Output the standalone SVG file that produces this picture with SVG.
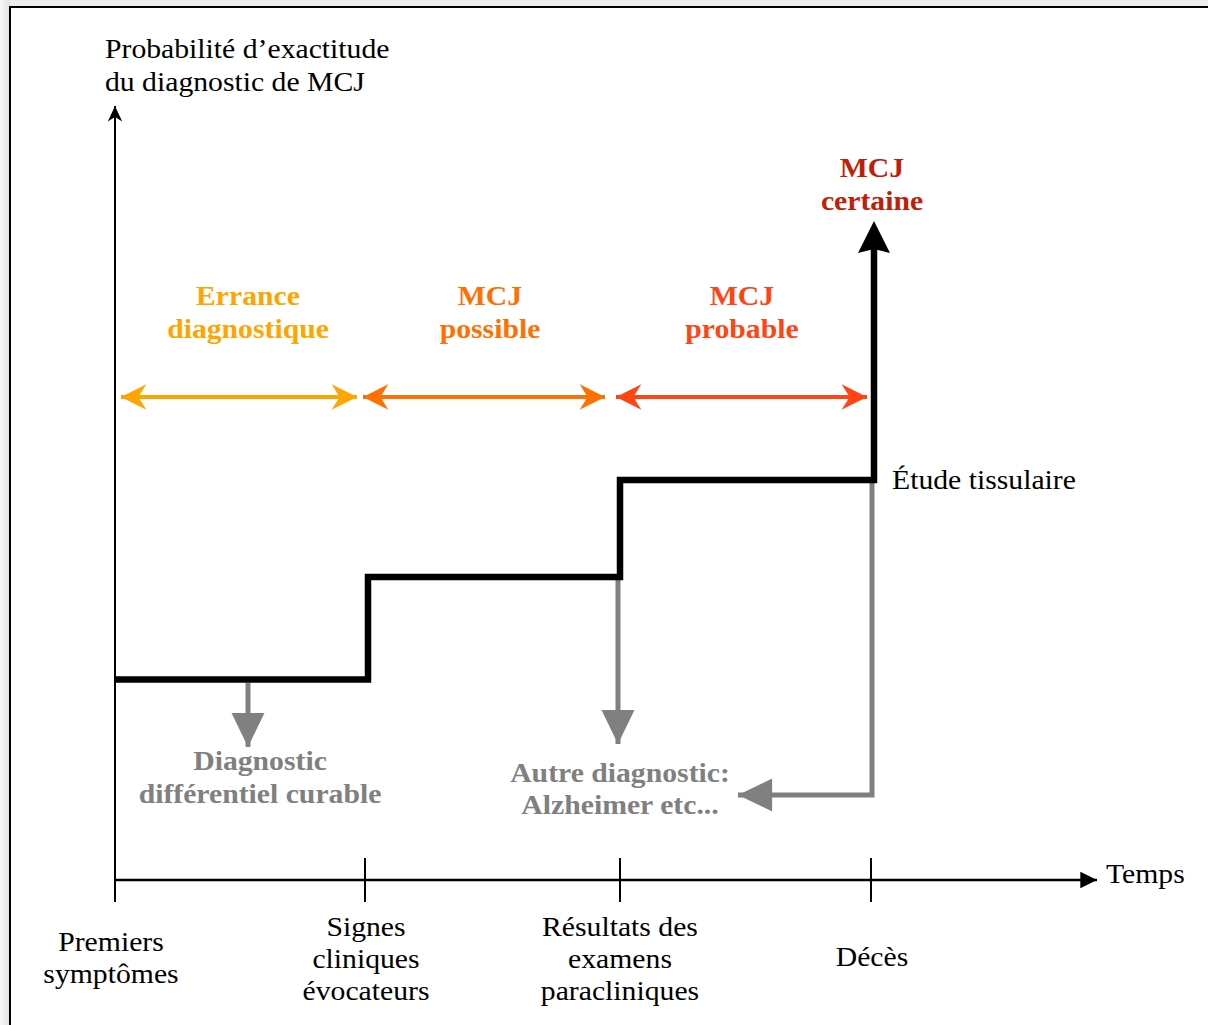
<svg xmlns="http://www.w3.org/2000/svg" width="1208" height="1025" viewBox="0 0 1208 1025">
<defs>
<style>
text{font-family:"Liberation Serif","Times New Roman","DejaVu Serif",serif;font-size:27px}
.b{font-weight:bold}
.c{text-anchor:middle}
.g{fill:#808080}
</style>
<marker id="axY" markerUnits="userSpaceOnUse" markerWidth="20" markerHeight="20" viewBox="-16 -8 18 16" refX="0" refY="0" orient="auto"><path d="M0,0 L-14,-6.5 L-10,0 L-14,6.5 Z" fill="#000"/></marker>
<marker id="axX" markerUnits="userSpaceOnUse" markerWidth="20" markerHeight="20" viewBox="-16 -8 18 16" refX="0" refY="0" orient="auto"><path d="M0,0 L-15,-7.5 L-15,7.5 Z" fill="#000"/></marker>
<marker id="aO" markerUnits="userSpaceOnUse" markerWidth="30" markerHeight="30" viewBox="-24 -12 26 24" refX="0" refY="0" orient="auto-start-reverse"><path d="M0,0 L-22,-11 L-15,0 L-22,11 Z" fill="#FFA500"/></marker>
<marker id="aP" markerUnits="userSpaceOnUse" markerWidth="30" markerHeight="30" viewBox="-24 -12 26 24" refX="0" refY="0" orient="auto-start-reverse"><path d="M0,0 L-22,-11 L-15,0 L-22,11 Z" fill="#FF7000"/></marker>
<marker id="aR" markerUnits="userSpaceOnUse" markerWidth="30" markerHeight="30" viewBox="-24 -12 26 24" refX="0" refY="0" orient="auto-start-reverse"><path d="M0,0 L-22,-11 L-15,0 L-22,11 Z" fill="#FF4514"/></marker>
<marker id="aG" markerUnits="userSpaceOnUse" markerWidth="40" markerHeight="40" viewBox="-32 -16 34 32" refX="0" refY="0" orient="auto"><path d="M0,0 L-29,-14 L-29,14 Z" fill="#808080"/></marker>
<linearGradient id="sh" x1="0" y1="0" x2="1" y2="0"><stop offset="0" stop-color="#f6f6f6"/><stop offset="1" stop-color="#e2e2e2"/></linearGradient>
</defs>
<rect x="0" y="0" width="1208" height="1025" fill="#eeeeee"/>
<rect x="0" y="0" width="10" height="1025" fill="url(#sh)"/>
<rect x="10" y="7" width="1210" height="1030" fill="#ffffff" stroke="#000" stroke-width="2"/>

<g id="connectors" fill="none">
<line x1="115" y1="880" x2="115" y2="106" stroke="#000" stroke-width="2" marker-end="url(#axY)"/>
<line x1="115" y1="880" x2="1097" y2="880" stroke="#000" stroke-width="2.5" marker-end="url(#axX)"/>
<line x1="115" y1="880" x2="115" y2="902" stroke="#000" stroke-width="2"/>
<line x1="365" y1="858" x2="365" y2="902" stroke="#000" stroke-width="2"/>
<line x1="620" y1="858" x2="620" y2="902" stroke="#000" stroke-width="2"/>
<line x1="871" y1="858" x2="871" y2="902" stroke="#000" stroke-width="2"/>
<line x1="121" y1="397" x2="357" y2="397" stroke="#FFA500" stroke-width="4" marker-start="url(#aO)" marker-end="url(#aO)"/>
<line x1="363" y1="397" x2="605" y2="397" stroke="#FF7000" stroke-width="4" marker-start="url(#aP)" marker-end="url(#aP)"/>
<line x1="616" y1="397" x2="867" y2="397" stroke="#FF4514" stroke-width="4" marker-start="url(#aR)" marker-end="url(#aR)"/>
<line x1="248" y1="683" x2="248" y2="747" stroke="#808080" stroke-width="5" marker-end="url(#aG)"/>
<line x1="618" y1="580" x2="618" y2="744" stroke="#808080" stroke-width="5" marker-end="url(#aG)"/>
<polyline points="872,483 872,795 738,795" stroke="#808080" stroke-width="5" marker-end="url(#aG)"/>
<polyline points="115,679.5 368,679.5 368,577 620,577 620,480 874,480 874,230" stroke="#000" stroke-width="6.5" stroke-linejoin="miter"/>
<path d="M874,221 L858,253 L874,249 L890,253 Z" fill="#000"/>
</g>

<g id="axis-y-label"><text transform="translate(105 58) scale(1.1 1)">Probabilité d’exactitude</text><text transform="translate(105 91) scale(1.1 1)">du diagnostic de MCJ</text></g>
<g id="errance" class="b c" fill="#FFA500"><text transform="translate(248 305) scale(1.1 1)">Errance</text><text transform="translate(248 338) scale(1.1 1)">diagnostique</text></g>
<g id="possible" class="b c" fill="#FF7000"><text transform="translate(490 305) scale(1.1 1)">MCJ</text><text transform="translate(490 338) scale(1.1 1)">possible</text></g>
<g id="probable" class="b c" fill="#FF4514"><text transform="translate(742 305) scale(1.1 1)">MCJ</text><text transform="translate(742 338) scale(1.1 1)">probable</text></g>
<g id="certaine" class="b c" fill="#C0200A"><text transform="translate(872 177) scale(1.1 1)">MCJ</text><text transform="translate(872 210) scale(1.1 1)">certaine</text></g>
<g id="etude"><text transform="translate(892 489) scale(1.1 1)">Étude tissulaire</text></g>
<g id="diff" class="b c g"><text transform="translate(260 770) scale(1.1 1)">Diagnostic</text><text transform="translate(260 803) scale(1.1 1)">différentiel curable</text></g>
<g id="autre" class="b c g"><text transform="translate(620 782) scale(1.1 1)">Autre diagnostic:</text><text transform="translate(620 814) scale(1.1 1)">Alzheimer etc...</text></g>
<g id="temps"><text transform="translate(1106 883) scale(1.1 1)">Temps</text></g>
<g id="premiers" class="c"><text transform="translate(111 951) scale(1.1 1)">Premiers</text><text transform="translate(111 983) scale(1.1 1)">symptômes</text></g>
<g id="signes" class="c"><text transform="translate(366 936) scale(1.1 1)">Signes</text><text transform="translate(366 968) scale(1.1 1)">cliniques</text><text transform="translate(366 1000) scale(1.1 1)">évocateurs</text></g>
<g id="resultats" class="c"><text transform="translate(620 936) scale(1.1 1)">Résultats des</text><text transform="translate(620 968) scale(1.1 1)">examens</text><text transform="translate(620 1000) scale(1.1 1)">paracliniques</text></g>
<g id="deces" class="c"><text transform="translate(872 966) scale(1.1 1)">Décès</text></g>
</svg>
